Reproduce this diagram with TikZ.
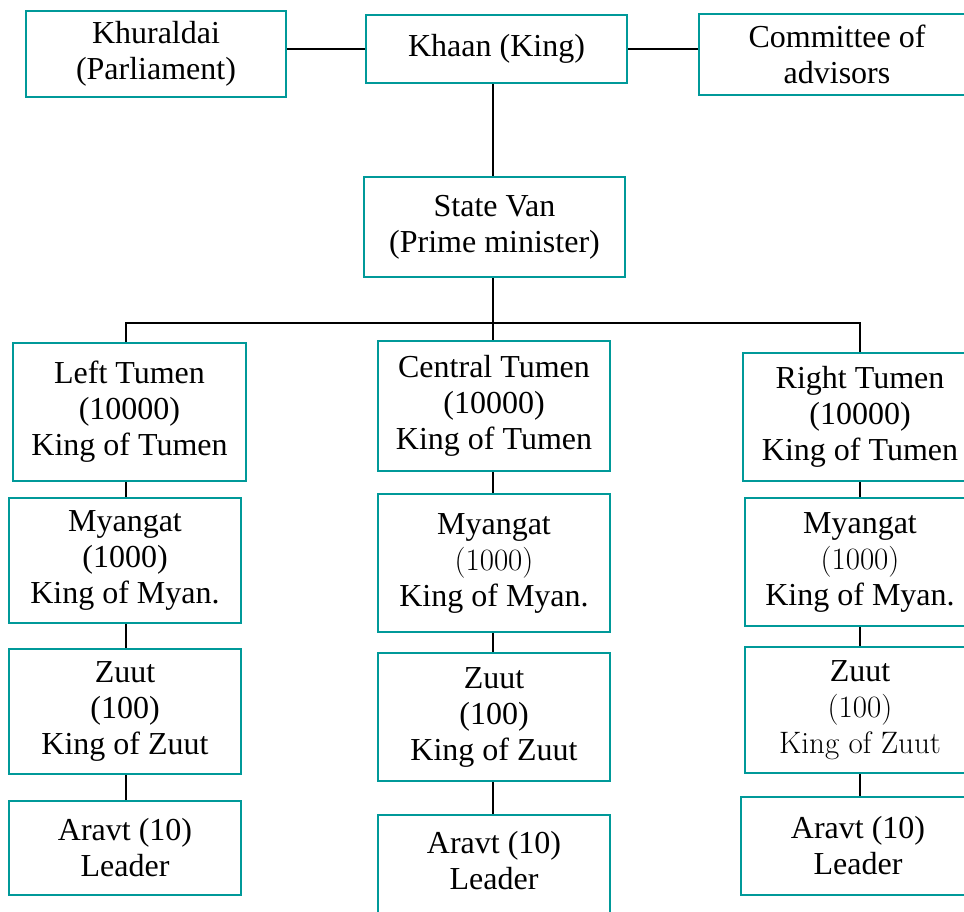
\documentclass[tikz,border=0pt]{standalone}
\usepackage{fontspec}
\setmainfont{Liberation Serif}
\newfontfamily\lmr{Latin Modern Roman}
\definecolor{tealbox}{RGB}{0,153,153}
\newcommand\lite[1]{{\lmr\fontsize{31}{36}\selectfont #1}}
\begin{document}
\begin{tikzpicture}[x=1pt,y=-1pt,
  box/.style={draw=tealbox, line width=2.8pt, inner sep=0pt, align=center,
              font=\fontsize{32}{36}\selectfont},
  conn/.style={draw=black, line width=2pt},
  txt/.style={inner sep=0pt, align=center, font=\fontsize{32}{36}\selectfont}]
\useasboundingbox (0,0) rectangle (964,912);
\clip (0,0) rectangle (964,912);
\fill[white] (0,0) rectangle (964,912);
\coordinate (lx) at (126,0);
\coordinate (cx) at (493,0);
\coordinate (rx) at (860,0);
% top row
\node[box, minimum width=260pt, minimum height=86pt] (khur) at (156,54) {Khuraldai\\(Parliament)};
\node[box, minimum width=261pt, minimum height=68pt] (khaan) at (496.5,49) {Khaan (King)};
\node[box, minimum width=276pt, minimum height=81pt] (comm) at (837,54.5) {Committee of\\advisors};
\node[box, minimum width=261pt, minimum height=100pt] (sv) at (494.5,227) {State Van\\(Prime minister)};
% tumen row
\node[box, minimum width=233pt, minimum height=138pt] (lt) at (129.5,412) {Left Tumen\\(10000)\\King of Tumen};
\node[box, minimum width=232pt, minimum height=130pt] (ct) at (494,406) {Central Tumen\\(10000)\\King of Tumen};
\node[box, minimum width=234pt, minimum height=128pt] (rt) at (860,417) {Right Tumen\\(10000)\\King of Tumen};
% myangat row
\node[box, minimum width=232pt, minimum height=125pt] (lm) at (125,560.5) {Myangat\\(1000)\\King of Myan.};
\node[box, minimum width=232pt, minimum height=138pt] (cm) at (494,563) {Myangat\\\lite{(1000)}\\King of Myan.};
\node[box, minimum width=230pt, minimum height=128pt] (rm) at (860,562) {Myangat\\\lite{(1000)}\\King of Myan.};
% zuut row
\node[box, minimum width=232pt, minimum height=125pt] (lz) at (125,711.5) {Zuut\\(100)\\King of Zuut};
\node[box, minimum width=232pt, minimum height=128pt] (cz) at (494,717) {Zuut\\(100)\\King of Zuut};
\node[box, minimum width=230pt, minimum height=126pt] (rz) at (860,710) {Zuut\\\lite{(100)}\\\lite{King of Zuut}};
% aravt row
\node[box, minimum width=232pt, minimum height=94pt] (la) at (125,848) {Aravt (10)\\Leader};
\node[box, minimum width=232pt, minimum height=130pt] (ca) at (494,880) {};
\node[txt] (catext) at (494,861) {Aravt (10)\\Leader};
\node[box, minimum width=234pt, minimum height=98pt] (ra) at (858,846) {Aravt (10)\\Leader};
% connectors
\draw[conn] (khaan.west) -- (khaan.west -| khur.east);
\draw[conn] (khaan.east) -- (khaan.east -| comm.west);
\draw[conn] (khaan.south -| cx) -- (sv.north -| cx);
\coordinate (bus) at (493,323);
\draw[conn] (sv.south -| cx) -- (bus);
\draw[conn] (lt.north -| lx) -- (bus -| lx) -- (bus -| rx) -- (rt.north -| rx);
\draw[conn] (bus) -- (ct.north -| cx);
\draw[conn] (lt.south -| lx) -- (lm.north -| lx);
\draw[conn] (lm.south -| lx) -- (lz.north -| lx);
\draw[conn] (lz.south -| lx) -- (la.north -| lx);
\draw[conn] (ct.south -| cx) -- (cm.north -| cx);
\draw[conn] (cm.south -| cx) -- (cz.north -| cx);
\draw[conn] (cz.south -| cx) -- (ca.north -| cx);
\draw[conn] (rt.south -| rx) -- (rm.north -| rx);
\draw[conn] (rm.south -| rx) -- (rz.north -| rx);
\draw[conn] (rz.south -| rx) -- (ra.north -| rx);
\end{tikzpicture}
\end{document}
